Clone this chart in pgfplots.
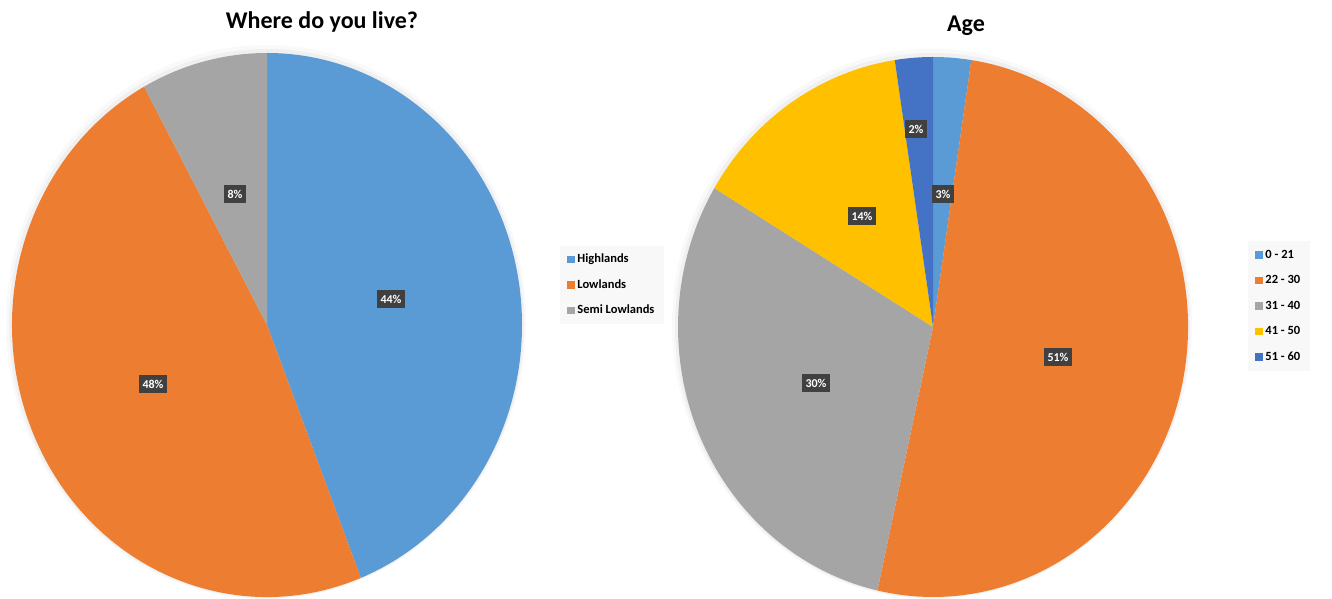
\documentclass[border=0pt]{standalone}
\usepackage{pgfplots}
\pgfplotsset{compat=1.18}
\usepackage{fontspec}
\setmainfont{Carlito}
\definecolor{cBlue}{HTML}{5B9BD5}
\definecolor{cOrange}{HTML}{ED7D31}
\definecolor{cGray}{HTML}{A5A5A5}
\definecolor{cGold}{HTML}{FFC000}
\definecolor{cDBlue}{HTML}{4472C4}
\definecolor{lblbg}{HTML}{404040}
\definecolor{legbg}{HTML}{F8F8F8}
\pgfplotsset{
  pixaxis/.style={
    width=1332pt, height=599pt, scale only axis,
    xmin=0, xmax=1332, ymin=0, ymax=599,
    hide axis, clip=false,
    legend image code/.code={\fill[##1] (0pt,-3.75pt) rectangle (7.75pt,3.75pt);},
    legend cell align=left,
    legend style={draw=none, fill=legbg, font=\bfseries\fontsize{12.5}{14}\selectfont,
      row sep=10pt, inner xsep=7pt, inner ysep=6pt,
      nodes={inner xsep=2.5pt, inner ysep=2pt, text height=9pt, text depth=2.5pt}},
  },
}
\tikzset{
  lbl/.style={fill=lblbg, text=white, font=\bfseries\fontsize{12}{12}\selectfont,
    inner xsep=3.5pt, inner ysep=5pt, overlay},
}
\begin{document}
\begin{tikzpicture}
% ---------- Left pie ----------
\begin{axis}[pixaxis, legend style={at={(560/1332,314/599)}, anchor=west}]
\path[use as bounding box] (axis cs:0,0) rectangle (axis cs:1332,599);
\fill[black, opacity=0.025, overlay] (axis cs:266,277) ellipse[x radius=260pt, y radius=277pt];
\fill[black, opacity=0.035, overlay] (axis cs:266.5,275.5) ellipse[x radius=257.5pt, y radius=274.5pt];
\gdef\cum{0}
\foreach \v/\c in {44/cBlue,48/cOrange,8/cGray}{
  \pgfmathsetmacro\a{90-3.6*\cum}
  \pgfmathsetmacro\b{90-3.6*(\cum+\v)}
  \pgfmathsetmacro\sx{255*cos(\a)}
  \pgfmathsetmacro\sy{272*sin(\a)}
  \edef\temp{\noexpand\fill[\c, overlay] (axis cs:267,274) -- ++(\sx pt,\sy pt) arc[start angle=\a, end angle=\b, x radius=255pt, y radius=272pt] -- cycle;}
  \temp
  \pgfmathsetmacro\n{\cum+\v}\xdef\cum{\n}
}
\addlegendimage{fill=cBlue, draw=none}\addlegendentry{Highlands}
\addlegendimage{fill=cOrange, draw=none}\addlegendentry{Lowlands}
\addlegendimage{fill=cGray, draw=none}\addlegendentry{Semi Lowlands}
\node[lbl] at (axis cs:391,300) {44\%};
\node[lbl] at (axis cs:153,215) {48\%};
\node[lbl] at (axis cs:235,405) {8\%};
\node[font=\bfseries\fontsize{24}{28}\selectfont, overlay] at (axis cs:322,577) {Where do you live?};
\end{axis}
% ---------- Right pie ----------
\begin{axis}[pixaxis, legend style={at={(1248/1332,293/599)}, anchor=west}]
\fill[black, opacity=0.025, overlay] (axis cs:932,275) ellipse[x radius=260pt, y radius=275pt];
\fill[black, opacity=0.035, overlay] (axis cs:932.5,273.5) ellipse[x radius=257.5pt, y radius=272.5pt];
\gdef\cum{0}
\foreach \v/\c in {2.4/cBlue,51.1/cOrange,30.1/cGray,14.0/cGold,2.4/cDBlue}{
  \pgfmathsetmacro\a{90-3.6*\cum}
  \pgfmathsetmacro\b{90-3.6*(\cum+\v)}
  \pgfmathsetmacro\sx{255*cos(\a)}
  \pgfmathsetmacro\sy{270*sin(\a)}
  \edef\temp{\noexpand\fill[\c, overlay] (axis cs:933,272) -- ++(\sx pt,\sy pt) arc[start angle=\a, end angle=\b, x radius=255pt, y radius=270pt] -- cycle;}
  \temp
  \pgfmathsetmacro\n{\cum+\v}\xdef\cum{\n}
}
\addlegendimage{fill=cBlue, draw=none}\addlegendentry{0 - 21}
\addlegendimage{fill=cOrange, draw=none}\addlegendentry{22 - 30}
\addlegendimage{fill=cGray, draw=none}\addlegendentry{31 - 40}
\addlegendimage{fill=cGold, draw=none}\addlegendentry{41 - 50}
\addlegendimage{fill=cDBlue, draw=none}\addlegendentry{51 - 60}
\node[lbl] at (axis cs:943,405) {3\%};
\node[lbl] at (axis cs:916,470) {2\%};
\node[lbl] at (axis cs:862,383) {14\%};
\node[lbl] at (axis cs:816,216) {30\%};
\node[lbl] at (axis cs:1058,242) {51\%};
\node[font=\bfseries\fontsize{24}{28}\selectfont, overlay] at (axis cs:966,573) {Age};
\end{axis}
\end{tikzpicture}
\end{document}
